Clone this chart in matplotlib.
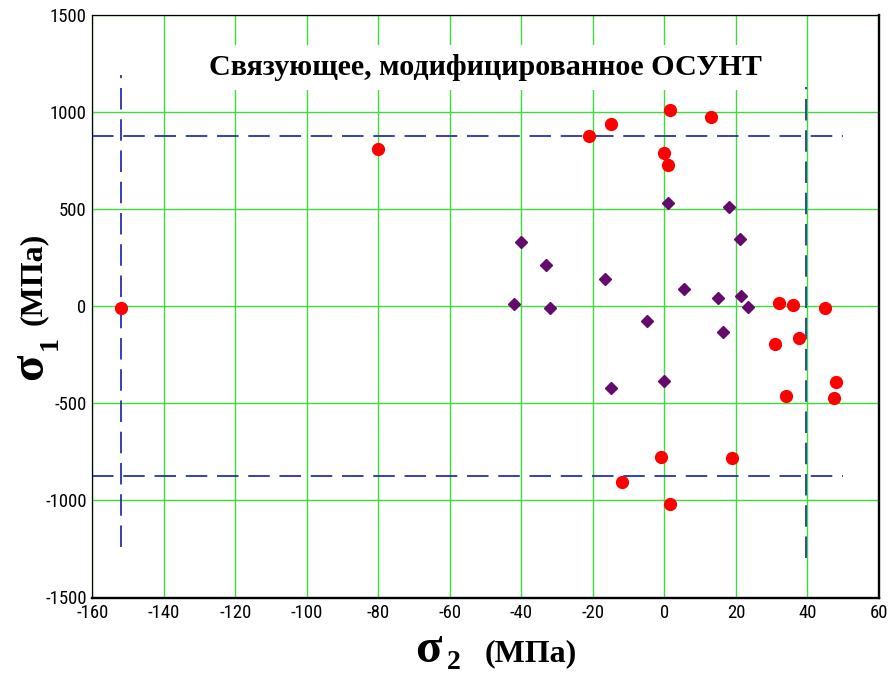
import numpy as np
import matplotlib
matplotlib.use("Agg")
import matplotlib.pyplot as plt
from matplotlib import font_manager

# sigma_2 / sigma_1 pairs, MPa
red_s2 = [-152, -80, -21, -15, 1.5, 13, 0, 1, 32, 36, 45, 31, 37.5, 48, 47.5, 34, -1, 19, -12, 1.5]
red_s1 = [-8, 810, 879, 938, 1011, 974, 788, 727, 16, 7, -10, -195, -164, -391, -470, -461, -774, -781, -903, -1021]

purple_s2 = [1, 18, 21, -16.5, 5.5, 15, 21.5, 23.5, -5, 16.5, -15, 0, -40, -33, -42, -32]
purple_s1 = [531, 510, 345, 141, 90, 43, 52, -1.5, -75, -135, -422, -383, 330, 210, 14, -7]

# strength limits (dashed guides)
limit_s2_neg = -152
limit_s2_pos = 39.5
limit_s1 = 875
vline_neg_span = (-1240, 1190)
vline_pos_span = (-1295, 1130)
hline_span = (-160, 50)

x_ticks = list(range(-160, 61, 20))
y_ticks = list(range(-1500, 1501, 500))

title = "Связующее, модифицированное ОСУНТ"

plt.rcParams["axes.unicode_minus"] = False
plt.rcParams["lines.scale_dashes"] = False

# narrow face for the tick numbers, if one is around
names = {f.name for f in font_manager.fontManager.ttflist}
tick_font = None
for cand in ("Liberation Sans Narrow", "Arial Narrow", "DejaVu Sans Condensed", "Roboto Condensed"):
    if cand in names:
        tick_font = cand
        break

W, H = 891, 676
fig = plt.figure(figsize=(W / 100, H / 100), dpi=100)
ax = fig.add_axes([92.3 / W, (H - 597.5) / H, (879 - 92.3) / W, (597.5 - 15) / H])

ax.set_xlim(-160, 60)
ax.set_ylim(-1500, 1500)
ax.set_xticks(x_ticks)
ax.set_yticks(y_ticks)
ax.grid(True, color="#3ddc3d", lw=1.0)
ax.set_axisbelow(True)
ax.tick_params(length=0, labelsize=13.5 if tick_font else 11)
ax.tick_params(axis="x", pad=5)
ax.tick_params(axis="y", pad=4)
for lab in ax.get_xticklabels() + ax.get_yticklabels():
    if tick_font:
        lab.set_family([tick_font, "DejaVu Sans"])
    else:
        lab.set_stretch("condensed")

for side in ("left", "top"):
    ax.spines[side].set_linewidth(0.9)
for side in ("right", "bottom"):
    ax.spines[side].set_linewidth(1.7)

dash_kw = dict(color="#2633ad", lw=1.3, dashes=(15.5, 7))
ax.plot([limit_s2_neg, limit_s2_neg], vline_neg_span, **dash_kw)
ax.plot([limit_s2_pos, limit_s2_pos], vline_pos_span, **dash_kw)
ax.plot(hline_span, [limit_s1, limit_s1], **dash_kw)
ax.plot(hline_span, [-limit_s1, -limit_s1], **dash_kw)

ax.plot(purple_s2, purple_s1, "D", color="#66096e", ms=6.5, mec="#66096e", ls="none")
ax.plot(red_s2, red_s1, "o", color="#ff0000", ms=8.5, mec="#ff0000", ls="none")

serif = ["Liberation Serif", "DejaVu Serif"]
ax.text(0.5, (H - 74.6 - (H - 597.5)) / (597.5 - 15), title, transform=ax.transAxes,
        ha="center", va="baseline", fontsize=21.7, fontweight="bold", family=serif,
        bbox=dict(boxstyle="square,pad=0.3", fc="white", ec="none"))


def px(x, y):
    return x / W, (H - y) / H


# x axis label: sigma_2 (MPa)
fig.text(*px(415, 662), "σ", fontsize=35, fontweight="bold", family=serif, va="baseline", ha="left")
fig.text(*px(447, 669), "2", fontsize=20, fontweight="bold", family=serif, va="baseline", ha="left")
fig.text(*px(485, 661), "(МПа)", fontsize=23, fontweight="bold", family=serif, va="baseline", ha="left")

# y axis label: sigma_1 (MPa), rotated
rot = dict(rotation=90, rotation_mode="anchor", ha="left", va="baseline", fontweight="bold", family=serif)
fig.text(*px(42, 380), "σ", fontsize=35, **rot)
fig.text(*px(57, 350), "1", fontsize=20, **rot)
fig.text(*px(41, 325), "(МПа)", fontsize=23, **rot)

fig.savefig("out.png", dpi=100, facecolor="white")
